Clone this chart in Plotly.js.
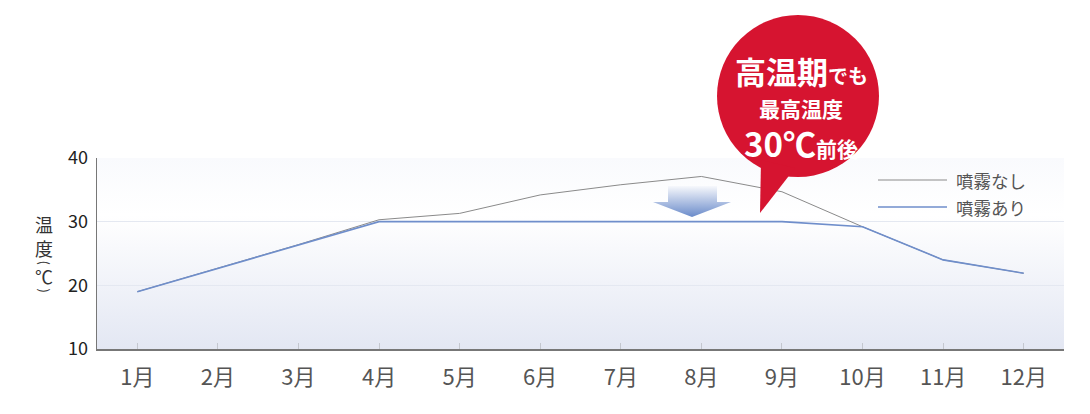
<!DOCTYPE html>
<html>
<head>
<meta charset="utf-8">
<script src="https://cdn.plot.ly/plotly-3.0.1.min.js"></script>
<style>
  html, body { margin: 0; padding: 0; background: #fff; }
  #chart { width: 1090px; height: 414px; }
</style>
</head>
<body>
<div id="chart"></div>
<script>
// chart data
const months = ["1月", "2月", "3月", "4月", "5月", "6月", "7月", "8月", "9月", "10月", "11月", "12月"];
const withoutMist = [19, 22.7, 26.4, 30.3, 31.3, 34.2, 35.8, 37.1, 34.7, 29.2, 24.0, 21.9];
const withMist = [19, 22.7, 26.4, 30.0, 30.0, 30.0, 30.0, 30.0, 30.0, 29.2, 24.0, 21.9];
const seriesNames = ["噴霧なし", "噴霧あり"];
const yTicks = [10, 20, 30, 40];

const FONT = '"Noto Sans CJK JP", "Noto Sans", sans-serif';
const W = 1090, H = 414;
const M = { l: 97, r: 26, t: 158, b: 65 };
const PW = W - M.l - M.r, PH = H - M.t - M.b;

// pixel -> paper helpers for the decorations
const px = x => (x - M.l) / PW;
const py = y => (H - M.b - y) / PH;

const svgUri = s => "data:image/svg+xml;charset=utf-8," + encodeURIComponent(s);

const bgSvg = '<svg xmlns="http://www.w3.org/2000/svg" width="100" height="100" preserveAspectRatio="none">' +
    '<defs><linearGradient id="g" x1="0" y1="0" x2="0" y2="1">' +
    '<stop offset="0" stop-color="#f9fafd"/><stop offset="0.3" stop-color="#ffffff"/>' +
    '<stop offset="1" stop-color="#e3e7f3"/></linearGradient></defs>' +
    '<rect width="100" height="100" fill="url(#g)"/></svg>';

const arrowSvg = '<svg xmlns="http://www.w3.org/2000/svg" width="78" height="31" viewBox="0 0 78 31" preserveAspectRatio="none">' +
    '<defs><linearGradient id="a" x1="0" y1="0" x2="0" y2="1">' +
    '<stop offset="0" stop-color="#f7f8fc"/><stop offset="1" stop-color="#6a8bca"/></linearGradient></defs>' +
    '<polygon points="15,0 64,0 64,16 78,16 39,31 0,16 15,16" fill="url(#a)"/></svg>';

const traceWithout = {
    x: months,
    y: withoutMist,
    name: seriesNames[0],
    type: "scatter",
    mode: "lines",
    line: { color: "#8a8a8a", width: 1 },
    hoverinfo: "skip"
};

const traceWith = {
    x: months,
    y: withMist,
    name: seriesNames[1],
    type: "scatter",
    mode: "lines",
    line: { color: "#6f8ecb", width: 1.6 },
    hoverinfo: "skip"
};

const bubbleRed = "#d61430";

const shapes = [
    // speech bubble
    { type: "circle", xref: "paper", yref: "paper", x0: px(717), x1: px(879), y0: py(177), y1: py(15),
      fillcolor: bubbleRed, line: { width: 0 }, layer: "above" },
    { type: "path", xref: "paper", yref: "paper",
      path: `M ${px(761)},${py(160)} L ${px(760)},${py(213)} L ${px(795)},${py(168)} Z`,
      fillcolor: bubbleRed, line: { width: 0 }, layer: "above" },
    // legend lines
    { type: "line", xref: "paper", yref: "paper", x0: px(878), x1: px(947), y0: py(180), y1: py(180),
      line: { color: "#8a8a8a", width: 1 } },
    { type: "line", xref: "paper", yref: "paper", x0: px(878), x1: px(947), y0: py(207), y1: py(207),
      line: { color: "#6f8ecb", width: 1.6 } }
];

const white = "#ffffff";
const note = (x, y, text, font, extra) => Object.assign({
    xref: "paper", yref: "paper", x: px(x), y: py(y), showarrow: false,
    xanchor: "center", yanchor: "middle", borderpad: 0, text: text, font: font
}, extra || {});

const titleFont = { family: FONT, size: 18, color: "#333" };
const parenFont = { family: FONT, size: 13, color: "#333" };

const annotations = [
    note(801, 71, '<b>高温期<span style="font-size:20px">でも</span></b>', { family: FONT, size: 31, color: white }),
    note(801, 108, "<b>最高温度</b>", { family: FONT, size: 21, color: white }),
    note(801, 143, '<b>30℃<span style="font-size:21px">前後</span></b>', { family: FONT, size: 33, color: white }),
    // legend labels
    note(955, 180, seriesNames[0], { family: FONT, size: 17.5, color: "#555" }, { xanchor: "left" }),
    note(955, 207, seriesNames[1], { family: FONT, size: 17.5, color: "#555" }, { xanchor: "left" }),
    // vertical y-axis title
    note(44, 224, "温", titleFont),
    note(44, 248, "度", titleFont),
    note(44, 262.5, "(", parenFont, { textangle: 90 }),
    note(44, 276, "℃", titleFont),
    note(44, 290.5, ")", parenFont, { textangle: 90 })
];

const layout = {
    width: W,
    height: H,
    margin: M,
    paper_bgcolor: "#ffffff",
    plot_bgcolor: "rgba(0,0,0,0)",
    showlegend: false,
    font: { family: FONT },
    xaxis: {
        type: "category",
        range: [-0.5, months.length - 0.5],
        showgrid: false,
        showline: true,
        linecolor: "#777",
        linewidth: 1.5,
        ticks: "inside",
        ticklen: 6,
        tickcolor: "#c4c7cf",
        tickfont: { family: FONT, size: 22, color: "#555" },
        ticklabelstandoff: 8,
        fixedrange: true
    },
    yaxis: {
        range: [10, 40],
        tickvals: yTicks,
        ticktext: yTicks.map(String),
        showgrid: true,
        gridcolor: "#e4e8f1",
        gridwidth: 1,
        zeroline: false,
        showline: true,
        linecolor: "#777",
        linewidth: 1.5,
        ticks: "",
        tickfont: { family: FONT, size: 18, color: "#222" },
        ticklabelstandoff: 4,
        fixedrange: true
    },
    images: [
        { source: svgUri(bgSvg), xref: "paper", yref: "paper", x: 0, y: 1, sizex: 1, sizey: 1,
          xanchor: "left", yanchor: "top", sizing: "stretch", layer: "below" },
        { source: svgUri(arrowSvg), xref: "paper", yref: "paper", x: px(653), y: py(186), sizex: 78 / PW, sizey: 31 / PH,
          xanchor: "left", yanchor: "top", sizing: "stretch", layer: "above" }
    ],
    shapes: shapes,
    annotations: annotations
};

Plotly.newPlot("chart", [traceWithout, traceWith], layout, { displayModeBar: false, staticPlot: true });
</script>
</body>
</html>
